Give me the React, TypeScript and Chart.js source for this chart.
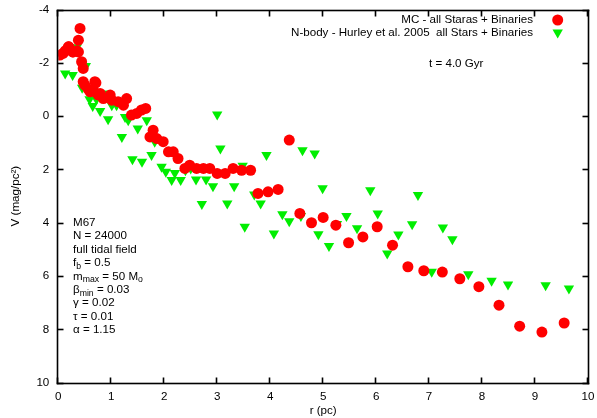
import React, { useEffect, useRef } from 'react';
import { Chart, registerables } from 'chart.js';

Chart.register(...registerables);

// ---- data ----
const mcR = [0.03, 0.09, 0.13, 0.19, 0.2, 0.27, 0.28, 0.35, 0.38, 0.38, 0.41, 0.44, 0.47, 0.47, 0.5, 0.57, 0.6, 0.66, 0.69, 0.71, 0.75, 0.79, 0.85, 0.98, 1.01, 1.13, 1.23, 1.29, 1.38, 1.48, 1.57, 1.65, 1.79, 1.73, 1.86, 1.98, 2.08, 2.17, 2.26, 2.39, 2.48, 2.61, 2.74, 2.86, 3.0, 3.15, 3.3, 3.46, 3.63, 3.77, 3.96, 4.15, 4.36, 4.56, 4.78, 5.0, 5.24, 5.48, 5.75, 6.02, 6.31, 6.6, 6.9, 7.25, 7.58, 7.94, 8.32, 8.71, 9.13, 9.55];
const mcV = [-2.29, -2.35, -2.45, -2.6, -2.6, -2.41, -2.41, -2.45, -2.41, -2.85, -3.29, -2.04, -1.79, -1.29, -1.16, -1.0, -0.91, -0.98, -1.29, -1.25, -0.8, -0.85, -0.66, -0.79, -0.6, -0.54, -0.41, -0.66, -0.04, -0.1, -0.23, -0.29, 0.53, 0.78, 0.84, 0.96, 1.34, 1.34, 1.59, 1.96, 1.84, 1.96, 1.96, 1.96, 2.15, 2.15, 1.96, 2.03, 2.03, 2.9, 2.84, 2.75, 0.9, 3.65, 4.0, 3.8, 4.09, 4.75, 4.53, 4.15, 4.84, 5.65, 5.8, 5.85, 6.1, 6.4, 7.09, 7.88, 8.1, 7.76];

const nbR = [0.13, 0.27, 0.35, 0.52, 0.45, 0.59, 0.65, 0.72, 0.79, 0.87, 0.94, 1.01, 1.1, 1.2, 1.26, 1.32, 1.4, 1.5, 1.58, 1.67, 1.76, 1.82, 1.95, 2.03, 2.14, 2.2, 2.31, 2.4, 2.5, 2.6, 2.71, 2.79, 2.92, 3.0, 3.06, 3.19, 3.32, 3.48, 3.52, 3.7, 3.82, 3.93, 4.07, 4.23, 4.36, 4.58, 4.61, 4.84, 4.91, 4.99, 5.11, 5.26, 5.44, 5.64, 5.89, 6.03, 6.21, 6.42, 6.68, 6.79, 7.05, 7.26, 7.44, 7.74, 8.18, 8.49, 9.2, 9.64];
const nbV = [-1.6, -1.54, -2.58, -1.88, -1.06, -0.63, -0.38, -0.63, -0.19, -0.85, 0.12, -0.41, -0.41, 0.78, 0.03, 0.15, 1.62, 0.46, 1.71, 0.15, 1.46, 0.96, 1.9, 2.09, 2.4, 2.13, 2.4, 2.03, 1.96, 2.38, 3.3, 2.38, 2.63, -0.06, 1.21, 3.28, 2.63, 1.86, 4.15, 2.94, 3.28, 1.46, 4.4, 3.68, 3.94, 3.75, 1.28, 1.4, 4.43, 2.71, 4.87, 4.05, 3.75, 4.21, 2.78, 3.65, 5.15, 4.44, 4.06, 2.96, 5.84, 4.18, 4.62, 5.93, 6.18, 6.32, 6.34, 6.47];

const xTicks = [0, 1, 2, 3, 4, 5, 6, 7, 8, 9, 10];
const yTicks = [-4, -2, 0, 2, 4, 6, 8, 10];

const seriesLabels = ['MC - all Staras + Binaries', 'N-body - Hurley et al. 2005  all Stars + Binaries'];
const xTitle = 'r (pc)';
const yTitle = 'V (mag/pc\u00B2)';
const timeLabel = 't = 4.0 Gyr';

type Seg = { t: string; sub?: boolean };
const infoLines: Seg[][] = [
  [{ t: 'M67' }],
  [{ t: 'N = 24000' }],
  [{ t: 'full tidal field' }],
  [{ t: 'f' }, { t: 'b', sub: true }, { t: ' = 0.5' }],
  [{ t: 'm' }, { t: 'max', sub: true }, { t: ' = 50 M' }, { t: 'o', sub: true }],
  [{ t: '\u03B2' }, { t: 'min', sub: true }, { t: ' = 0.03' }],
  [{ t: '\u03B3 = 0.02' }],
  [{ t: '\u03C4 = 0.01' }],
  [{ t: '\u03B1 = 1.15' }],
];

const FAMILY = '"Liberation Sans", Arial, Helvetica, sans-serif';
const FS = 11.6;
const RED = '#ff0000';
const GREEN = '#00ee00';

function drawRich(ctx: CanvasRenderingContext2D, segs: Seg[], x: number, y: number, size: number, align: 'left' | 'right') {
  let total = 0;
  for (const s of segs) {
    ctx.font = `${s.sub ? size * 0.75 : size}px ${FAMILY}`;
    total += ctx.measureText(s.t).width;
  }
  let cx = align === 'right' ? x - total : x;
  ctx.textAlign = 'left';
  for (const s of segs) {
    const fs = s.sub ? size * 0.75 : size;
    ctx.font = `${fs}px ${FAMILY}`;
    ctx.fillText(s.t, cx, y + (s.sub ? size * 0.32 : 0));
    cx += ctx.measureText(s.t).width;
  }
}

const zeroPad = (s: any) => {
  s.paddingTop = 0;
  s.paddingBottom = 0;
  s.paddingLeft = 0;
  s.paddingRight = 0;
};

const framePlugin = {
  id: 'gnuplotFrame',
  afterDraw(chart: any) {
    const { ctx, chartArea: a, scales } = chart;
    ctx.save();
    ctx.globalAlpha = 1;
    ctx.globalCompositeOperation = 'source-over';
    ctx.fillStyle = '#000';
    const tl = 6;
    const lw = 1.6;
    const h = lw / 2;
    const L = Math.round(a.left) - 0.5, R = Math.round(a.right) + 0.5;
    const T = Math.round(a.top) + 0.5, B = Math.round(a.bottom) + 0.5;
    // frame
    ctx.fillRect(L - h, T - h, R - L + lw, lw);
    ctx.fillRect(L - h, B - h, R - L + lw, lw);
    ctx.fillRect(L - h, T - h, lw, B - T + lw);
    ctx.fillRect(R - h, T - h, lw, B - T + lw);
    // inward ticks on all four sides
    for (const v of xTicks) {
      const px = Math.round(scales.x.getPixelForValue(v)) - 0.5;
      ctx.fillRect(px - h, B - tl, lw, tl);
      ctx.fillRect(px - h, T, lw, tl);
    }
    for (const v of yTicks) {
      const py = Math.round(scales.y.getPixelForValue(v)) + 0.5;
      ctx.fillRect(L, py - h, tl, lw);
      ctx.fillRect(R - tl, py - h, tl, lw);
    }

    // legend
    ctx.fillStyle = '#000';
    ctx.textBaseline = 'middle';
    const lx = 533, mx = 557.7;
    const rows = [20, 32.5];
    seriesLabels.forEach((lab, i) => {
      drawRich(ctx, [{ t: lab }], lx, rows[i], FS, 'right');
    });
    ctx.fillStyle = RED;
    ctx.beginPath();
    ctx.arc(mx, rows[0], 5.5, 0, Math.PI * 2);
    ctx.fill();
    ctx.fillStyle = GREEN;
    const r = 6;
    ctx.beginPath();
    ctx.moveTo(mx, rows[1] + r);
    ctx.lineTo(mx - r * Math.sin(Math.PI / 3), rows[1] - r / 2);
    ctx.lineTo(mx + r * Math.sin(Math.PI / 3), rows[1] - r / 2);
    ctx.closePath();
    ctx.fill();

    // annotations
    ctx.fillStyle = '#000';
    drawRich(ctx, [{ t: timeLabel }], 429, 63.3, FS, 'left');
    infoLines.forEach((segs, i) => {
      drawRich(ctx, segs, 73, 222.7 + i * 13.4, FS, 'left');
    });
    ctx.restore();
  },
};

export default function App() {
  const ref = useRef<HTMLCanvasElement | null>(null);
  useEffect(() => {
    if (!ref.current) return;
    const chart = new Chart(ref.current, {
      type: 'scatter',
      data: {
        datasets: [
          {
            label: seriesLabels[0],
            data: mcR.map((x, i) => ({ x, y: mcV[i] })),
            pointStyle: 'circle',
            pointRadius: 5.5,
            pointBorderWidth: 0,
            backgroundColor: RED,
            borderColor: RED,
          },
          {
            label: seriesLabels[1],
            data: nbR.map((x, i) => ({ x, y: nbV[i] })),
            pointStyle: 'triangle',
            pointRotation: 180,
            pointRadius: 6,
            pointBorderWidth: 0,
            backgroundColor: GREEN,
            borderColor: GREEN,
          },
        ],
      },
      options: {
        responsive: false,
        animation: false,
        devicePixelRatio: 1,
        layout: { autoPadding: false, padding: { top: 9.5, right: 9, left: 0, bottom: 0 } },
        plugins: { legend: { display: false }, tooltip: { enabled: false } },
        scales: {
          x: {
            type: 'linear',
            min: 0,
            max: 10,
            afterBuildTicks: (s: any) => { s.ticks = xTicks.map((v) => ({ value: v })); },
            afterFit: (s: any) => { s.height = 35.3; zeroPad(s); },
            grid: { display: false, drawTicks: false },
            border: { display: false },
            ticks: { color: '#000', font: { family: FAMILY, size: FS }, padding: 7, maxRotation: 0, autoSkip: false },
            title: { display: true, text: xTitle, color: '#000', font: { family: FAMILY, size: FS }, padding: { top: 0, bottom: 0 } },
          },
          y: {
            type: 'linear',
            min: -4,
            max: 10,
            reverse: true,
            afterBuildTicks: (s: any) => { s.ticks = yTicks.map((v) => ({ value: v })); },
            afterFit: (s: any) => { s.width = 58.3; zeroPad(s); },
            grid: { display: false, drawTicks: false },
            border: { display: false },
            ticks: { color: '#000', font: { family: FAMILY, size: FS }, padding: 9, autoSkip: false },
            title: { display: true, text: yTitle, color: '#000', font: { family: FAMILY, size: FS }, padding: { top: 9, bottom: 0 } },
          },
        },
      },
      plugins: [framePlugin],
    } as any);
    return () => chart.destroy();
  }, []);
  return (
    <div style={{ position: 'fixed', left: 0, top: 0, width: 597, height: 418, background: '#fff' }}>
      <canvas ref={ref} width={597} height={418} style={{ display: 'block' }} />
    </div>
  );
}
